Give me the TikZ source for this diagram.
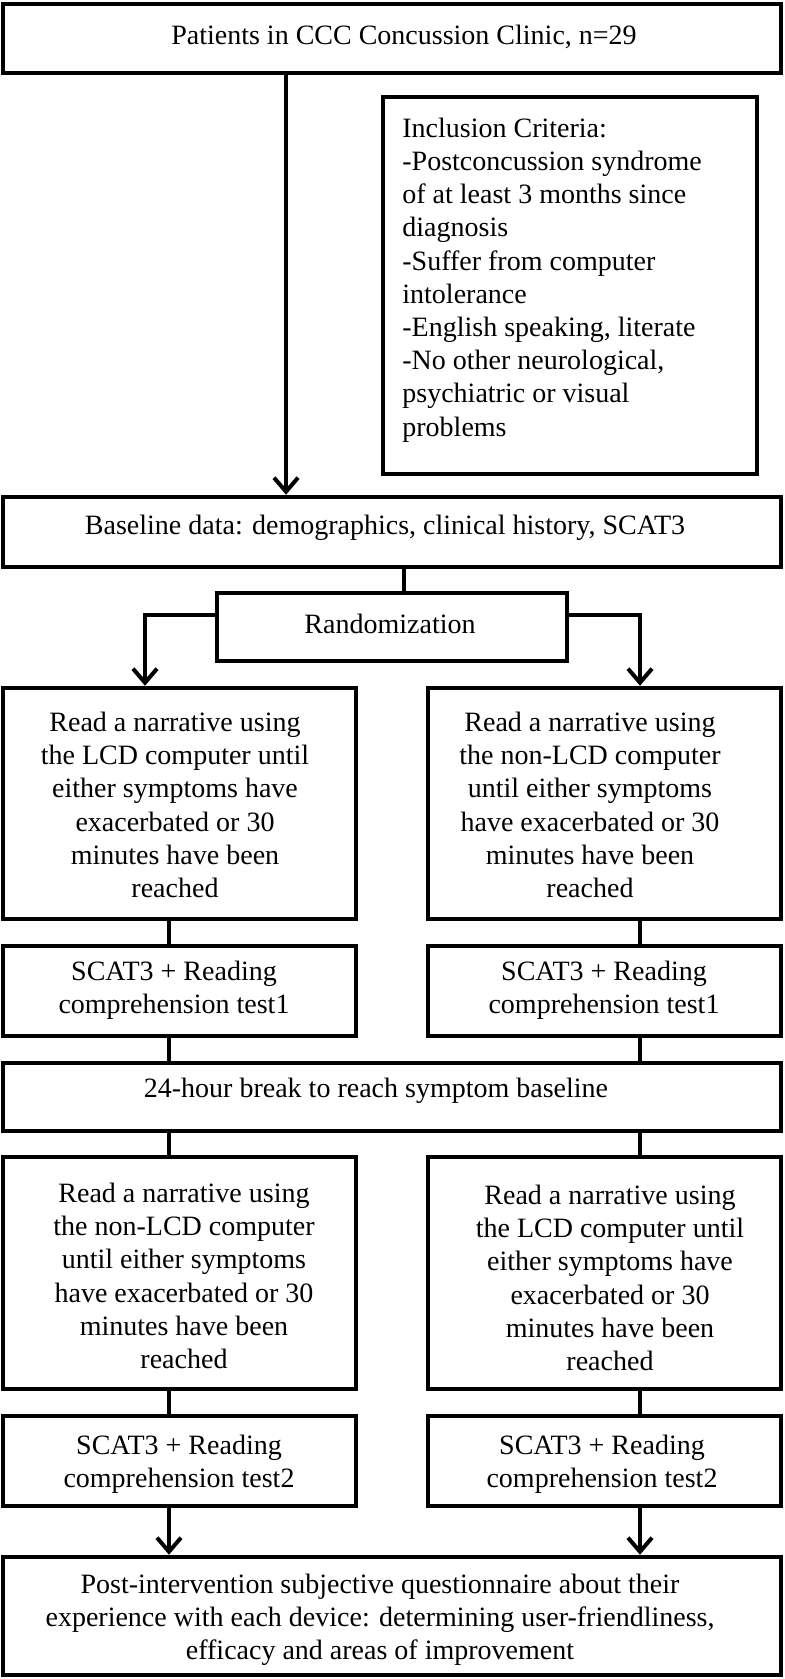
\documentclass[tikz,border=0pt]{standalone}
\usepackage{fontspec}
\setmainfont{Liberation Serif}
\usetikzlibrary{arrows.meta}
\tikzset{
  box/.style={draw=black, line width=2.25pt, inner sep=0pt, fill=white},
  txt/.style={inner sep=0pt, align=center, font=\fontsize{14}{16.6}\selectfont},
  conn/.style={line width=2.1pt},
  arr/.style={line width=2.1pt, -{Straight Barb[length=7pt,width=12pt,line width=2pt]}},
}
\begin{document}
\begin{tikzpicture}[x=0.5pt,y=-0.5pt]
\useasboundingbox (0,0) rectangle (784,1679);
% boxes
\node[box,minimum width=389pt,minimum height=34.5pt] (top) at (392,38.5) {};
\node[box,minimum width=187pt,minimum height=188.5pt] (incl) at (570,285.5) {};
\node[box,minimum width=389pt,minimum height=35pt] (base) at (392,532) {};
\node[box,minimum width=175pt,minimum height=34pt] (rand) at (392,627) {};
\node[box,minimum width=176.5pt,minimum height=115.5pt] (read1L) at (179.5,803.5) {};
\node[box,minimum width=176.5pt,minimum height=115.5pt] (read1R) at (604.5,803.5) {};
\node[box,minimum width=176.5pt,minimum height=45pt] (scat1L) at (179.5,991) {};
\node[box,minimum width=176.5pt,minimum height=45pt] (scat1R) at (604.5,991) {};
\node[box,minimum width=389pt,minimum height=34pt] (brk) at (392,1097) {};
\node[box,minimum width=176.5pt,minimum height=116pt] (read2L) at (179.5,1273) {};
\node[box,minimum width=176.5pt,minimum height=116pt] (read2R) at (604.5,1273) {};
\node[box,minimum width=176.5pt,minimum height=45pt] (scat2L) at (179.5,1461) {};
\node[box,minimum width=176.5pt,minimum height=45pt] (scat2R) at (604.5,1461) {};
\node[box,minimum width=389pt,minimum height=59pt] (final) at (392,1616) {};
% texts
\node[txt] (topT) at (404,37) {Patients in CCC Concussion Clinic, n=29};
\node[txt,anchor=west,align=left] (inclT) at (402,280) {Inclusion Criteria:\\-Postconcussion syndrome\\of at least 3 months since\\diagnosis\\-Suffer from computer\\intolerance\\-English speaking, literate\\-No other neurological,\\psychiatric or visual\\problems};
\node[txt] (baseT) at (385,528) {Baseline data: demographics, clinical history, SCAT3};
\node[txt] (randT) at (390,624) {Randomization};
\node[txt] (r1LT) at (175,805) {Read a narrative using\\the LCD computer until\\either symptoms have\\exacerbated or 30\\minutes have been\\reached};
\node[txt] (r1RT) at (590,805) {Read a narrative using\\the non-LCD computer\\until either symptoms\\have exacerbated or 30\\minutes have been\\reached};
\node[txt] (s1LT) at (174,990) {SCAT3 + Reading\\comprehension test1};
\node[txt] (s1RT) at (604,990) {SCAT3 + Reading\\comprehension test1};
\node[txt] (brkT) at (376,1091) {24-hour break to reach symptom baseline};
\node[txt] (r2LT) at (184,1276) {Read a narrative using\\the non-LCD computer\\until either symptoms\\have exacerbated or 30\\minutes have been\\reached};
\node[txt] (r2RT) at (610,1278) {Read a narrative using\\the LCD computer until\\either symptoms have\\exacerbated or 30\\minutes have been\\reached};
\node[txt] (s2LT) at (179,1464) {SCAT3 + Reading\\comprehension test2};
\node[txt] (s2RT) at (602,1464) {SCAT3 + Reading\\comprehension test2};
\node[txt] (finT) at (380,1620) {Post-intervention subjective questionnaire about their\\experience with each device: determining user-friendliness,\\efficacy and areas of improvement};
% connectors
\draw[arr] (top.south -| 286,0) -- (base.north -| 286,0);
\draw[conn] (base.south -| 404,0) -- (rand.north -| 404,0);
\draw[arr] (rand.west |- 0,615) -| (read1L.north -| 145,0);
\draw[arr] (rand.east |- 0,615) -| (read1R.north -| 640,0);
\draw[conn] (read1L.south -| 169,0) -- (scat1L.north -| 169,0);
\draw[conn] (read1R.south -| 640,0) -- (scat1R.north -| 640,0);
\draw[conn] (scat1L.south -| 169,0) -- (brk.north -| 169,0);
\draw[conn] (scat1R.south -| 640,0) -- (brk.north -| 640,0);
\draw[conn] (brk.south -| 169,0) -- (read2L.north -| 169,0);
\draw[conn] (brk.south -| 640,0) -- (read2R.north -| 640,0);
\draw[conn] (read2L.south -| 169,0) -- (scat2L.north -| 169,0);
\draw[conn] (read2R.south -| 640,0) -- (scat2R.north -| 640,0);
\draw[arr] (scat2L.south -| 169,0) -- (final.north -| 169,0);
\draw[arr] (scat2R.south -| 640,0) -- (final.north -| 640,0);
\end{tikzpicture}
\end{document}
